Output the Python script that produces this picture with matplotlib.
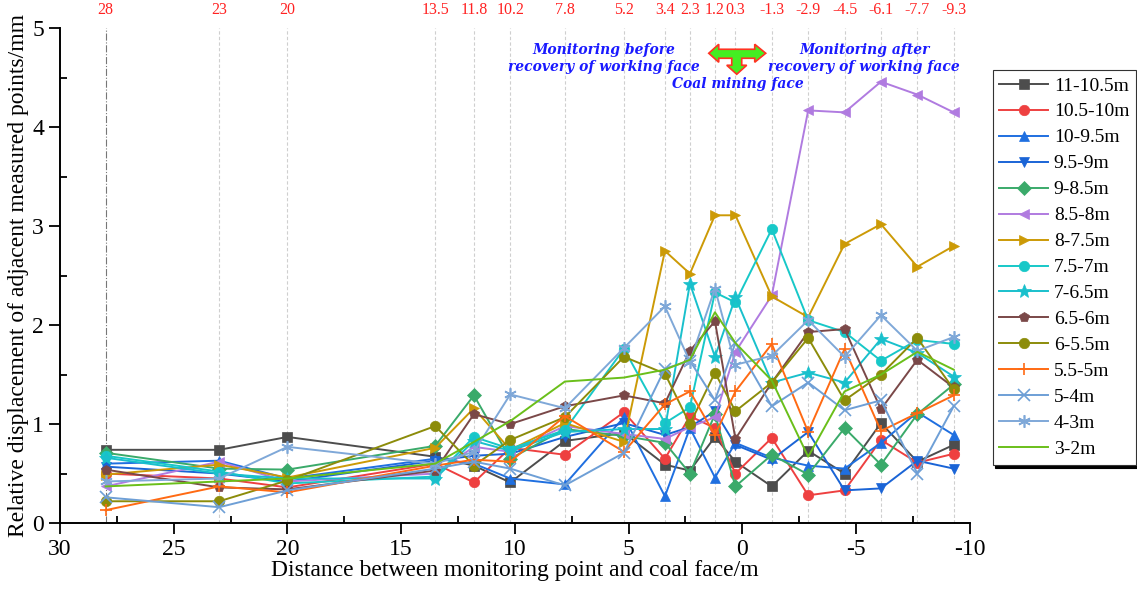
import matplotlib
matplotlib.use("Agg")
import matplotlib.pyplot as plt
from matplotlib.patches import Polygon
from matplotlib.ticker import MultipleLocator
import numpy as np

plt.rcParams['font.family'] = ['Liberation Serif', 'DejaVu Serif']
plt.rcParams['axes.unicode_minus'] = False

# distance between monitoring point and coal face (m)
dist = [28, 23, 20, 13.5, 11.8, 10.2, 7.8, 5.2, 3.4, 2.3, 1.2, 0.3, -1.3, -2.9, -4.5, -6.1, -7.7, -9.3]
dist_labels = ['28', '23', '20', '13.5', '11.8', '10.2', '7.8', '5.2', '3.4', '2.3', '1.2', '0.3',
               '-1.3', '-2.9', '-4.5', '-6.1', '-7.7', '-9.3']

s_11_105 = [0.74, 0.74, 0.87, 0.67, 0.58, 0.41, 0.83, 0.91, 0.59, 0.53, 0.87, 0.62, 0.37, 0.73, 0.50, 1.01, 0.62, 0.79]
s_105_10 = [0.50, 0.45, 0.36, 0.60, 0.41, 0.76, 0.69, 1.12, 0.65, 1.08, 0.96, 0.50, 0.86, 0.28, 0.33, 0.84, 0.61, 0.70]
s_10_95 = [0.60, 0.63, 0.45, 0.65, 0.60, 0.45, 0.39, 1.07, 0.27, 0.96, 0.46, 0.81, 0.66, 0.58, 0.55, 0.81, 1.12, 0.89]
s_95_9 = [0.57, 0.50, 0.42, 0.63, 0.68, 0.70, 0.87, 1.01, 0.89, 0.97, 1.13, 0.79, 0.64, 0.92, 0.33, 0.35, 0.63, 0.55]
s_9_85 = [0.71, 0.55, 0.54, 0.78, 1.29, 0.65, 0.95, 0.88, 0.81, 0.50, 1.10, 0.37, 0.69, 0.49, 0.96, 0.59, 1.10, 1.40]
s_85_8 = [0.37, 0.62, 0.42, 0.50, 0.77, 0.72, 0.98, 0.90, 0.85, 0.97, 1.07, 1.73, 2.30, 4.17, 4.15, 4.46, 4.33, 4.15]
s_8_75 = [0.49, 0.59, 0.46, 0.76, 1.16, 0.74, 1.01, 0.82, 2.75, 2.52, 3.11, 3.11, 2.29, 2.08, 2.82, 3.02, 2.59, 2.80]
s_75_7 = [0.68, 0.52, 0.40, 0.47, 0.87, 0.75, 0.94, 1.76, 1.01, 1.17, 2.33, 2.23, 2.97, 2.05, 1.93, 1.64, 1.85, 1.81]
s_7_65 = [0.66, 0.50, 0.45, 0.45, 0.83, 0.73, 0.92, 0.95, 0.95, 2.42, 1.68, 2.28, 1.42, 1.52, 1.42, 1.86, 1.72, 1.48]
s_65_6 = [0.54, 0.36, 0.34, 0.53, 1.10, 1.00, 1.18, 1.29, 1.21, 1.74, 2.04, 0.85, 1.42, 1.93, 1.96, 1.15, 1.65, 1.37]
s_6_55 = [0.22, 0.22, 0.43, 0.98, 0.58, 0.84, 1.07, 1.68, 1.51, 1.00, 1.52, 1.13, 1.42, 1.87, 1.24, 1.50, 1.87, 1.35]
s_55_5 = [0.13, 0.37, 0.31, 0.58, 0.64, 0.62, 1.08, 0.72, 1.20, 1.33, 0.89, 1.33, 1.81, 0.92, 1.76, 0.93, 1.11, 1.29]
s_5_4 = [0.26, 0.16, 0.33, 0.55, 0.62, 0.55, 0.38, 0.71, 1.56, 1.64, 1.24, 1.82, 1.18, 1.42, 1.14, 1.24, 0.50, 1.18]
s_4_3 = [0.42, 0.45, 0.77, 0.60, 0.72, 1.30, 1.16, 1.77, 2.19, 1.63, 2.37, 1.60, 1.69, 2.05, 1.68, 2.10, 1.74, 1.88]
s_3_2 = [0.37, 0.42, 0.45, 0.60, 0.82, 1.03, 1.43, 1.47, 1.55, 1.65, 2.13, 1.82, 1.44, 0.67, 1.33, 1.50, 1.73, 1.55]

series = [
    ('11-10.5m', s_11_105, '#4d4d4d', 's'),
    ('10.5-10m', s_105_10, '#ee4040', 'o'),
    ('10-9.5m', s_10_95, '#1f6fe0', '^'),
    ('9.5-9m', s_95_9, '#1a64d6', 'v'),
    ('9-8.5m', s_9_85, '#3aaa6a', 'D'),
    ('8.5-8m', s_85_8, '#b07be0', '<'),
    ('8-7.5m', s_8_75, '#cc9a06', '>'),
    ('7.5-7m', s_75_7, '#17c8c8', 'o'),
    ('7-6.5m', s_7_65, '#19c0cc', '*'),
    ('6.5-6m', s_65_6, '#7a4848', 'p'),
    ('6-5.5m', s_6_55, '#8c8c0a', 'o'),
    ('5.5-5m', s_55_5, '#ff6a13', '+'),
    ('5-4m', s_5_4, '#6e9fd6', 'x'),
    ('4-3m', s_4_3, '#7fa8d8', (6, 2, 0)),
    ('3-2m', s_3_2, '#6abf1a', None),
]

fig = plt.figure(figsize=(11.37, 5.89), dpi=100)
ax = fig.add_axes([0.0528, 0.112, 0.80, 0.840])

# vertical guide lines at each monitoring distance
for i, d in enumerate(dist):
    if i == 0:
        ax.axvline(d, color='#777777', lw=0.8, ls='-.', zorder=0)
    else:
        ax.axvline(d, color='#cfcfcf', lw=0.8, ls=(0, (3, 2)), zorder=0)
    ax.text(d, 1.02, dist_labels[i], transform=ax.get_xaxis_transform(),
            color='#ff2222', fontsize=11.5, ha='center', va='bottom')

handles = []
for name, vals, col, mk in series:
    ms = 7.5
    if mk == '*':
        ms = 10
    elif mk in ('+', 'x', (6, 2, 0)):
        ms = 9
    h, = ax.plot(dist, vals, color=col, marker=mk, ms=ms, lw=1.4,
                 mec=col, mew=1.2 if mk in ('+', 'x', (6, 2, 0)) else 0.5, label=name)
    handles.append(h)

ax.set_xlim(30, -10)
ax.set_ylim(0, 5)
ax.xaxis.set_major_locator(MultipleLocator(5))
ax.xaxis.set_minor_locator(MultipleLocator(2.5))
ax.yaxis.set_major_locator(MultipleLocator(1))
ax.yaxis.set_minor_locator(MultipleLocator(0.5))
ax.tick_params(which='major', direction='out', length=8, width=1.3, labelsize=17)
ax.tick_params(which='minor', direction='in', length=5, width=1.3)
for s in ['top', 'right']:
    ax.spines[s].set_visible(False)
for s in ['left', 'bottom']:
    ax.spines[s].set_linewidth(1.4)

ax.set_xlabel('Distance between monitoring point and coal face/m', fontsize=17, labelpad=0)
ax.set_ylabel('Relative displacement of adjacent measured points/mm', fontsize=17, labelpad=2)

# annotations
txt = dict(color='#1a1aff', fontsize=10, fontweight='bold', fontstyle='italic',
           family='DejaVu Serif', ha='center', va='center', transform=ax.transAxes)
ax.text(0.598, 0.939, 'Monitoring before\nrecovery of working face', linespacing=1.3, **txt)
ax.text(0.884, 0.939, 'Monitoring after\nrecovery of working face', linespacing=1.3, **txt)
ax.text(0.745, 0.887, 'Coal mining face', **txt)

px = [709, 719, 719, 755, 755, 766, 755, 755, 742, 742, 747, 737, 727, 732, 732, 719, 719]
py = [53, 44, 49, 49, 44, 53, 62, 58, 58, 65, 65, 74, 65, 65, 58, 58, 62]
pts = [((x - 60) / 910, (523 - y) / 495) for x, y in zip(px, py)]
ax.add_patch(Polygon(pts, closed=True, transform=ax.transAxes, facecolor='#44ee22',
                     edgecolor='#ff3322', lw=1.2, clip_on=False))

leg = ax.legend(handles=handles, loc='upper left', bbox_to_anchor=(0.873, 0.881),
                bbox_transform=fig.transFigure, borderaxespad=0,
                prop={'family': 'Liberation Serif', 'size': 14}, frameon=True,
                fancybox=False, edgecolor='#333333', handlelength=2.5, labelspacing=0.43,
                borderpad=0.35, handletextpad=0.3, shadow={'color': 'black', 'alpha': 1})
leg.get_frame().set_linewidth(0.8)

fig.savefig('out.png', dpi=100)
